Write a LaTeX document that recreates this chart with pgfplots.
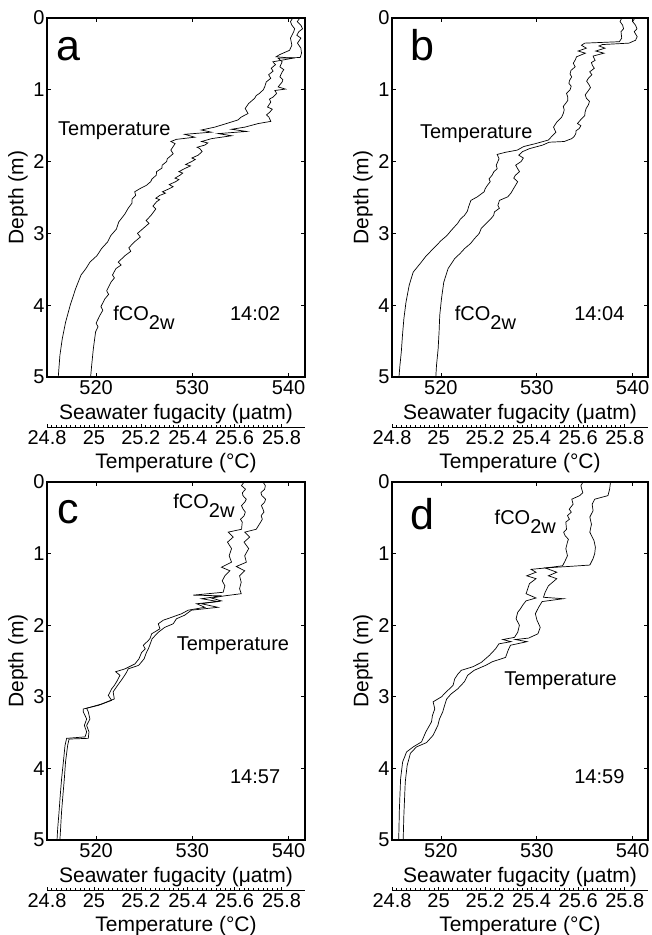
\documentclass[border=0pt]{standalone}
\usepackage{fontspec}
\setmainfont{Liberation Sans}
\usepackage{pgfplots}
\pgfplotsset{compat=1.18}
\newcommand{\fs}{\fontsize{20}{24}\selectfont}
\newcommand{\fl}{\fontsize{21}{25}\selectfont}
\newcommand{\fbig}{\fontsize{43}{50}\selectfont}
\pgfplotsset{
  fug/.style={scale only axis, xmin=514.9, xmax=541.7, ymin=0, ymax=5, y dir=reverse,
    xtick={520,530,540}, ytick={0,1,2,3,4,5}, tick align=inside, major tick length=4pt,
    axis line style={line width=1.4pt}, every tick/.style={black, line width=0.8pt},
    tick label style={font=\fs}, /pgf/number format/assume math mode=true,
    xlabel={Seawater fugacity (μatm)}, ylabel={Depth (m)},
    label style={font=\fl},
    xlabel style={at={(axis description cs:0.5,0)}, anchor=center, yshift=-37pt},
    ylabel style={at={(axis description cs:0,0.5)}, anchor=center, yshift=29pt},
    yticklabel style={xshift=1pt}},
  temp/.style={scale only axis, xmin=24.8, xmax=25.9, ymin=0, ymax=5, y dir=reverse,
    hide y axis, axis x line*=bottom, axis x line shift=50pt,
    axis line style={-, line width=0.6pt},
    xtick={24.8,25,25.2,25.4,25.6,25.8}, minor x tick num=9,
    tick align=inside, major tick length=3pt, minor tick length=1.8pt,
    every tick/.style={black, line width=0.5pt},
    tick label style={font=\fs}, /pgf/number format/assume math mode=true,
    xticklabel style={/pgf/number format/.cd, fixed, precision=1},
    xlabel={Temperature (°C)}, label style={font=\fl},
    xlabel style={at={(axis description cs:0.5,0)}, anchor=center, yshift=-86pt}},
  curve/.style={black, line width=0.7pt}
}
\begin{document}
\begin{tikzpicture}[x=1pt,y=1pt]
\useasboundingbox (0,0) rectangle (652,935);
% ---------------- panel a
\begin{axis}[fug, at={(47pt,558pt)}, anchor=south west, width=258pt, height=359pt]
\addplot[curve] coordinates {
(541.16,0.00)(540.9,0.05)(541.27,0.10)(541.45,0.15)(541.06,0.19)(540.85,0.24)(541.27,0.28)(540.92,0.35)
(541.27,0.42)(541.34,0.49)(541.2,0.55)(538.91,0.56)(539.33,0.61)(539.09,0.68)(539.5,0.72)(539.33,0.75)
(539.09,0.82)(539.4,0.86)(539.33,0.89)(538.91,0.96)(539.67,0.99)(538.57,1.01)(538.75,1.05)(538.4,1.10)
(538.0,1.13)(538.15,1.17)(537.81,1.24)(538.3,1.27)(538.05,1.31)(537.7,1.35)(537.95,1.38)(538.15,1.44)
(536.84,1.47)(535.45,1.52)(534.07,1.55)(535.63,1.58)(532.69,1.61)(534.07,1.64)(532.0,1.68)(530.96,1.72)
(531.6,1.74)(531.3,1.77)(530.5,1.80)(530.78,1.82)(531.02,1.86)(530.61,1.91)(529.95,1.95)(530.3,1.97)
(529.92,2.00)(529.3,2.04)(529.8,2.06)(529.16,2.10)(528.6,2.14)(529.0,2.16)(528.71,2.19)(528.2,2.23)
(528.6,2.25)(528.26,2.28)(527.6,2.32)(528.0,2.35)(527.56,2.38)(526.9,2.42)(527.2,2.44)(526.63,2.47)
(526.2,2.51)(526.6,2.53)(526.28,2.56)(525.9,2.62)(526.2,2.66)(525.7,2.75)(525.2,2.82)(525.5,2.86)
(524.9,2.93)(524.3,3.00)(524.6,3.05)(523.97,3.12)(523.4,3.20)(523.6,3.25)(523.0,3.31)(522.3,3.40)
(522.6,3.44)(522.06,3.49)(521.7,3.58)(521.9,3.62)(521.54,3.68)(521.1,3.80)(521.3,3.85)(520.92,3.91)
(520.5,4.02)(520.7,4.07)(520.4,4.14)(520.0,4.25)(520.2,4.30)(519.95,4.37)(519.71,4.61)(519.54,4.84)
(519.43,5.00)};
\node[font=\fbig, anchor=base, inner sep=0] at (axis cs:517.18,0.586) {a};
\node[font=\fs, anchor=base west, inner sep=0] at (axis cs:516.04,1.63) {Temperature};
\node[font=\fs, anchor=base west, inner sep=0] at (axis cs:521.78,4.21) {fCO\raisebox{-9pt}{2w}};
\node[font=\fs, anchor=base west, inner sep=0] at (axis cs:533.9,4.21) {14:02};
\end{axis}
\begin{axis}[temp, at={(47pt,558pt)}, anchor=south west, width=258pt, height=359pt]
\addplot[curve] coordinates {
(25.848,0.00)(25.838,0.05)(25.844,0.10)(25.856,0.15)(25.852,0.19)(25.838,0.28)(25.844,0.38)(25.834,0.45)
(25.792,0.51)(25.777,0.54)(25.848,0.56)(25.763,0.61)(25.774,0.65)(25.756,0.70)(25.764,0.74)(25.745,0.79)
(25.754,0.84)(25.735,0.89)(25.728,0.96)(25.722,1.00)(25.706,1.05)(25.692,1.08)(25.685,1.12)(25.674,1.15)
(25.66,1.19)(25.645,1.26)(25.657,1.33)(25.628,1.38)(25.614,1.42)(25.565,1.47)(25.515,1.52)(25.458,1.56)
(25.501,1.59)(25.387,1.62)(25.43,1.66)(25.352,1.69)(25.328,1.72)(25.346,1.75)(25.338,1.79)(25.328,1.84)
(25.338,1.89)(25.313,1.96)(25.31,2.00)(25.291,2.05)(25.29,2.09)(25.267,2.14)(25.266,2.19)(25.248,2.24)
(25.242,2.28)(25.224,2.33)(25.2,2.37)(25.174,2.42)(25.178,2.47)(25.163,2.52)(25.162,2.58)(25.146,2.65)
(25.132,2.73)(25.106,2.84)(25.096,2.94)(25.072,3.03)(25.058,3.12)(25.033,3.21)(25.013,3.31)(24.983,3.40)
(24.966,3.49)(24.945,3.58)(24.922,3.77)(24.899,4.00)(24.879,4.24)(24.865,4.47)(24.855,4.70)(24.848,5.00)};
\end{axis}
% ---------------- panel b
\begin{axis}[fug, at={(392pt,558pt)}, anchor=south west, width=256pt, height=359pt, xmax=541.6]
\addplot[curve] coordinates {
(540.23,0.00)(540.0,0.05)(540.3,0.10)(540.45,0.15)(540.16,0.19)(540.47,0.26)(540.3,0.31)(539.61,0.35)
(536.84,0.37)(536.49,0.39)(537.11,0.42)(536.15,0.46)(537.01,0.49)(535.87,0.53)(536.08,0.59)(535.7,0.62)
(535.8,0.66)(536.0,0.70)(535.52,0.75)(535.75,0.79)(535.38,0.84)(535.2,0.88)(535.45,0.93)(535.6,0.97)
(535.28,1.03)(535.05,1.07)(535.18,1.12)(535.5,1.16)(535.38,1.21)(535.15,1.26)(535.04,1.31)(535.0,1.36)
(534.69,1.40)(534.24,1.47)(534.6,1.50)(534.42,1.54)(534.1,1.57)(534.07,1.61)(533.9,1.65)(533.65,1.68)
(532.86,1.72)(531.3,1.73)(530.61,1.77)(529.23,1.82)(528.53,1.86)(528.12,1.91)(528.6,1.95)(528.36,2.00)
(527.8,2.05)(528.01,2.10)(528.2,2.14)(527.77,2.19)(527.6,2.23)(528.01,2.28)(527.56,2.38)(527.3,2.44)
(526.98,2.49)(526.11,2.54)(525.94,2.61)(526.1,2.65)(525.59,2.70)(525.5,2.75)(525.25,2.79)(524.73,2.86)
(524.21,2.93)(524.0,3.00)(523.52,3.07)(523.1,3.14)(522.48,3.21)(522.0,3.28)(521.44,3.35)(521.1,3.42)
(520.75,3.49)(520.3,3.68)(520.06,3.91)(519.88,4.14)(519.81,4.37)(519.71,4.61)(519.54,4.84)(519.47,5.00)};
\node[font=\fbig, anchor=base, inner sep=0] at (axis cs:518.05,0.586) {b};
\node[font=\fs, anchor=base west, inner sep=0] at (axis cs:517.81,1.68) {Temperature};
\node[font=\fs, anchor=base west, inner sep=0] at (axis cs:521.44,4.21) {fCO\raisebox{-9pt}{2w}};
\node[font=\fs, anchor=base west, inner sep=0] at (axis cs:533.9,4.21) {14:04};
\end{axis}
\begin{axis}[temp, at={(392pt,558pt)}, anchor=south west, width=256pt, height=359pt]
\addplot[curve] coordinates {
(25.787,0.00)(25.78,0.05)(25.791,0.10)(25.795,0.15)(25.784,0.19)(25.787,0.28)(25.777,0.33)(25.628,0.35)
(25.614,0.38)(25.635,0.42)(25.6,0.46)(25.631,0.49)(25.593,0.54)(25.588,0.58)(25.579,0.63)(25.587,0.68)
(25.569,0.73)(25.565,0.78)(25.572,0.82)(25.563,0.87)(25.56,0.91)(25.57,0.95)(25.565,1.00)(25.55,1.05)
(25.555,1.10)(25.555,1.15)(25.546,1.19)(25.536,1.23)(25.54,1.28)(25.536,1.33)(25.529,1.38)(25.508,1.45)
(25.494,1.52)(25.504,1.59)(25.489,1.64)(25.472,1.70)(25.416,1.75)(25.366,1.79)(25.338,1.84)(25.288,1.87)
(25.252,1.90)(25.26,1.96)(25.248,2.05)(25.252,2.10)(25.238,2.14)(25.23,2.19)(25.217,2.24)(25.222,2.28)
(25.21,2.33)(25.2,2.38)(25.196,2.42)(25.167,2.49)(25.139,2.54)(25.129,2.63)(25.124,2.69)(25.111,2.75)
(25.094,2.80)(25.082,2.86)(25.054,2.96)(25.036,3.03)(25.011,3.10)(24.99,3.17)(24.969,3.24)(24.945,3.32)
(24.926,3.40)(24.891,3.54)(24.874,3.72)(24.86,3.96)(24.851,4.19)(24.845,4.42)(24.84,4.65)(24.834,4.84)
(24.83,5.00)};
\end{axis}
% ---------------- panel c
\begin{axis}[fug, at={(47pt,95pt)}, anchor=south west, width=258pt, height=358pt]
\addplot[curve] coordinates {
(535.38,0.00)(535.1,0.05)(535.52,0.10)(535.2,0.15)(535.25,0.19)(535.6,0.24)(535.45,0.28)(535.1,0.33)
(535.28,0.38)(535.5,0.42)(535.38,0.47)(535.0,0.52)(535.18,0.56)(535.11,0.66)(533.72,0.70)(534.24,0.77)
(533.65,0.84)(534.07,0.93)(533.82,1.03)(534.07,1.12)(533.03,1.19)(533.9,1.24)(533.38,1.31)(533.1,1.38)
(533.38,1.45)(533.2,1.54)(530.09,1.58)(533.03,1.59)(530.96,1.63)(532.69,1.67)(530.44,1.70)(531.3,1.75)
(529.57,1.79)(528.88,1.84)(527.84,1.89)(526.98,1.93)(526.46,1.98)(526.63,2.05)(525.77,2.12)(525.59,2.19)
(525.3,2.23)(524.9,2.28)(525.1,2.33)(524.73,2.38)(524.45,2.47)(524.04,2.54)(523.0,2.61)(522.03,2.65)
(522.48,2.70)(522.13,2.79)(521.9,2.84)(521.61,2.89)(521.27,2.98)(521.61,3.05)(520.23,3.12)(518.67,3.17)
(518.67,3.21)(519.02,3.31)(518.78,3.40)(519.02,3.49)(518.85,3.56)(516.94,3.58)(516.77,3.68)(516.6,3.91)
(516.42,4.14)(516.28,4.37)(516.15,4.61)(516.01,4.84)(515.94,5.00)};
\node[font=\fbig, anchor=base, inner sep=0] at (axis cs:517.11,0.58) {c};
\node[font=\fs, anchor=base west, inner sep=0] at (axis cs:528.01,0.37) {fCO\raisebox{-9pt}{2w}};
\node[font=\fs, anchor=base west, inner sep=0] at (axis cs:528.36,2.35) {Temperature};
\node[font=\fs, anchor=base west, inner sep=0] at (axis cs:533.9,4.21) {14:57};
\end{axis}
\begin{axis}[temp, at={(47pt,95pt)}, anchor=south west, width=258pt, height=358pt]
\addplot[curve] coordinates {
(25.721,0.00)(25.731,0.05)(25.728,0.10)(25.712,0.15)(25.716,0.19)(25.732,0.24)(25.728,0.28)(25.714,0.33)
(25.721,0.38)(25.725,0.42)(25.713,0.47)(25.718,0.52)(25.711,0.56)(25.692,0.66)(25.643,0.70)(25.664,0.77)
(25.64,0.84)(25.66,0.93)(25.643,1.03)(25.65,1.12)(25.607,1.18)(25.643,1.24)(25.621,1.31)(25.628,1.40)
(25.621,1.49)(25.628,1.56)(25.557,1.59)(25.501,1.62)(25.543,1.66)(25.458,1.70)(25.529,1.75)(25.416,1.79)
(25.387,1.86)(25.352,1.91)(25.338,1.98)(25.302,2.03)(25.274,2.10)(25.248,2.19)(25.238,2.28)(25.232,2.33)
(25.224,2.38)(25.214,2.47)(25.191,2.56)(25.146,2.61)(25.139,2.66)(25.121,2.75)(25.101,2.84)(25.082,2.93)
(25.087,3.03)(25.033,3.10)(24.969,3.16)(24.976,3.21)(24.983,3.31)(24.969,3.40)(24.979,3.49)(24.976,3.58)
(24.894,3.59)(24.888,3.68)(24.879,3.91)(24.874,4.14)(24.868,4.37)(24.862,4.61)(24.858,4.84)(24.855,5.00)};
\end{axis}
% ---------------- panel d
\begin{axis}[fug, at={(392pt,95pt)}, anchor=south west, width=256pt, height=358pt, xmax=541.6]
\addplot[curve] coordinates {
(534.83,0.00)(534.6,0.05)(534.69,0.10)(534.8,0.15)(534.48,0.19)(533.65,0.24)(533.79,0.31)(533.38,0.38)
(533.6,0.42)(533.2,0.47)(533.4,0.52)(533.03,0.56)(533.1,0.66)(532.8,0.70)(532.96,0.75)(533.3,0.80)
(533.2,0.84)(533.03,0.93)(533.2,1.03)(532.96,1.10)(532.69,1.17)(530.96,1.20)(529.4,1.22)(529.92,1.26)
(528.95,1.31)(529.92,1.35)(529.23,1.42)(529.06,1.49)(528.88,1.56)(529.92,1.62)(528.88,1.66)(528.53,1.72)
(528.3,1.77)(528.01,1.82)(527.84,1.91)(528.19,2.00)(528.01,2.10)(527.67,2.17)(526.46,2.20)(527.32,2.23)
(526.05,2.26)(525.7,2.33)(525.07,2.42)(524.21,2.52)(523.34,2.58)(522.13,2.63)(521.79,2.68)(521.44,2.75)
(521.27,2.84)(520.57,2.93)(520.06,3.00)(519.19,3.07)(519.36,3.17)(519.12,3.26)(519.02,3.35)(518.43,3.49)
(517.98,3.63)(517.11,3.70)(516.42,3.77)(516.01,3.91)(515.8,4.14)(515.73,4.37)(515.66,4.61)(515.63,4.84)
(515.59,5.00)};
\node[font=\fbig, anchor=base, inner sep=0] at (axis cs:518.05,0.67) {d};
\node[font=\fs, anchor=base west, inner sep=0] at (axis cs:525.59,0.60) {fCO\raisebox{-9pt}{2w}};
\node[font=\fs, anchor=base west, inner sep=0] at (axis cs:526.6,2.84) {Temperature};
\node[font=\fs, anchor=base west, inner sep=0] at (axis cs:533.9,4.21) {14:59};
\end{axis}
\begin{axis}[temp, at={(392pt,95pt)}, anchor=south west, width=256pt, height=358pt]
\addplot[curve] coordinates {
(25.739,0.00)(25.735,0.10)(25.728,0.19)(25.671,0.24)(25.66,0.31)(25.664,0.40)(25.65,0.49)(25.657,0.59)
(25.65,0.70)(25.668,0.82)(25.674,0.91)(25.671,1.00)(25.664,1.07)(25.65,1.16)(25.557,1.18)(25.458,1.20)
(25.508,1.26)(25.472,1.31)(25.508,1.35)(25.472,1.45)(25.458,1.54)(25.451,1.61)(25.536,1.63)(25.445,1.67)
(25.43,1.75)(25.416,1.84)(25.423,1.93)(25.437,2.03)(25.427,2.12)(25.387,2.18)(25.33,2.20)(25.38,2.23)
(25.309,2.28)(25.299,2.35)(25.288,2.45)(25.231,2.51)(25.203,2.56)(25.153,2.63)(25.125,2.70)(25.111,2.79)
(25.082,2.89)(25.054,2.96)(25.035,3.03)(25.026,3.12)(25.018,3.21)(25.004,3.31)(24.997,3.40)(24.976,3.54)
(24.948,3.64)(24.905,3.70)(24.879,3.79)(24.865,3.96)(24.857,4.19)(24.854,4.42)(24.851,4.65)(24.848,5.00)};
\end{axis}
\end{tikzpicture}
\end{document}
